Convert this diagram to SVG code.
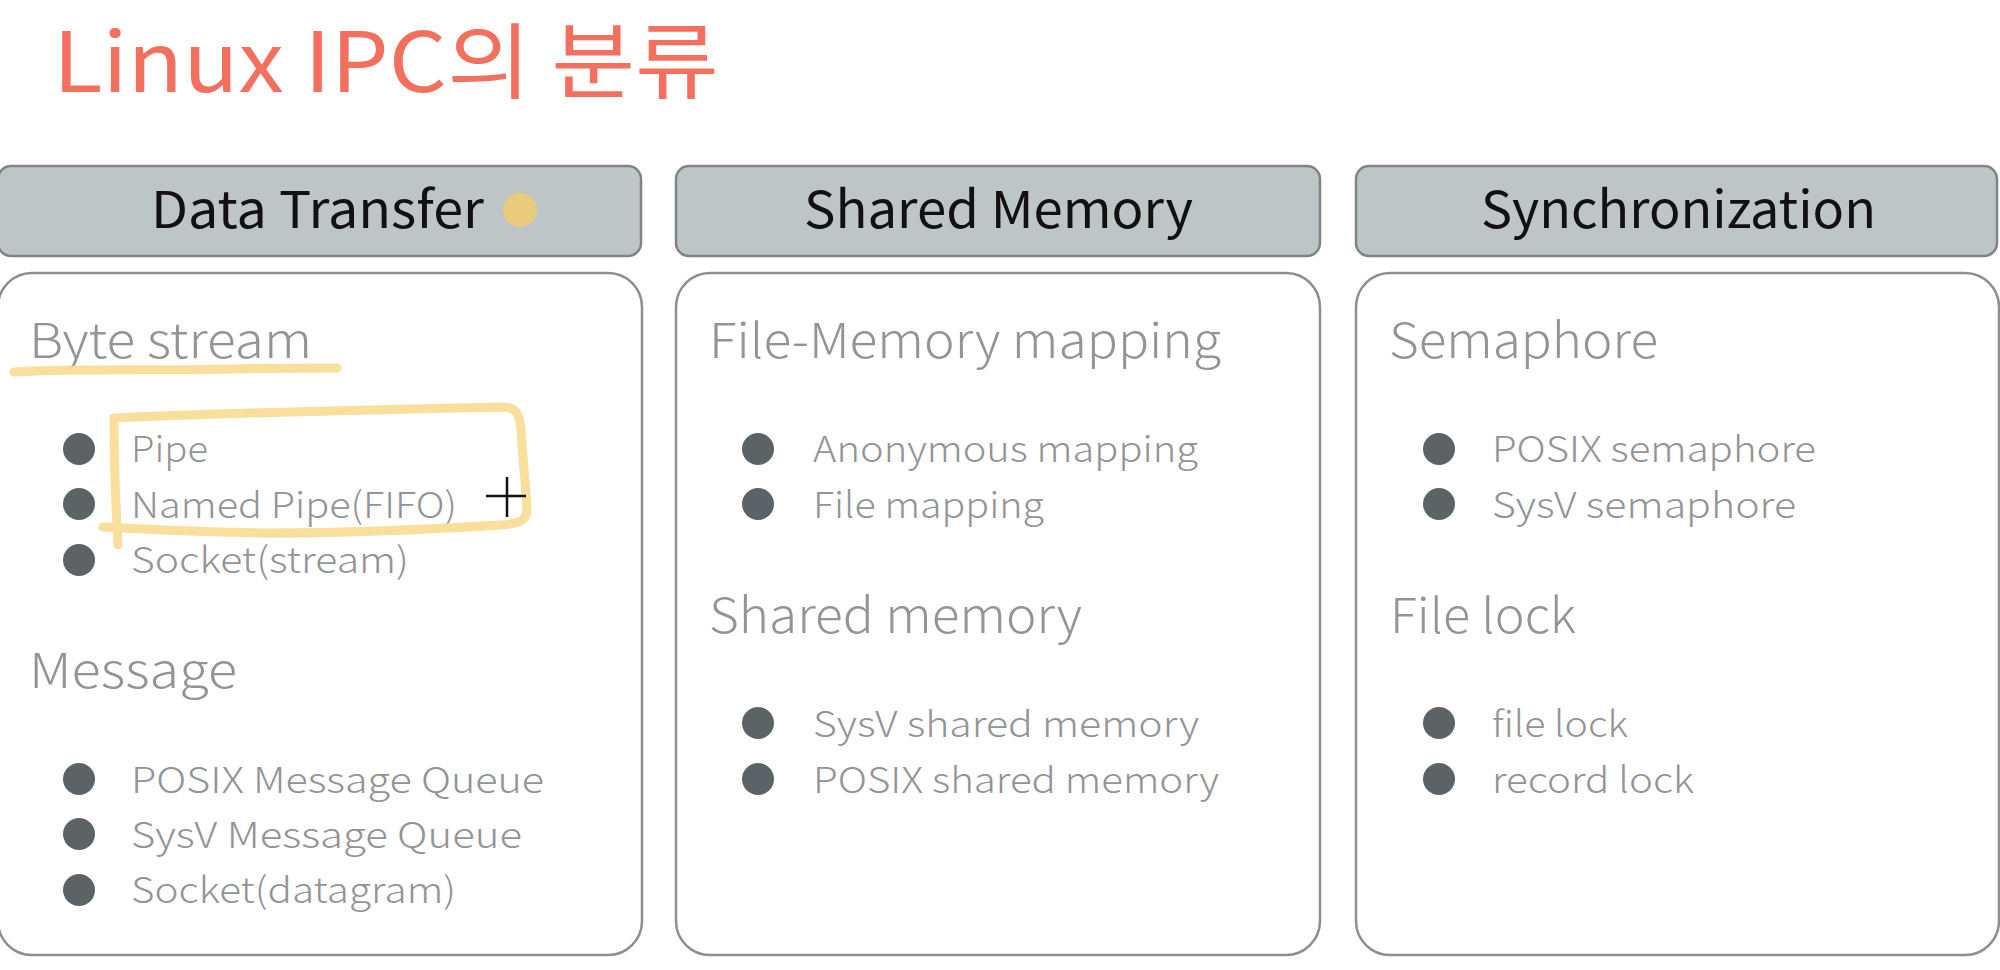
<svg xmlns="http://www.w3.org/2000/svg" width="2000" height="970" viewBox="0 0 2000 970">
<style>
.title{font-family:"Noto Sans CJK KR","Noto Sans",sans-serif;font-size:83px;fill:#F3705F;}
.hdr{fill:#BEC5C7;stroke:#7E8586;stroke-width:2.5;}
.hdrtxt{font-family:"Noto Sans CJK KR","Noto Sans",sans-serif;font-size:51px;fill:#111;font-weight:400;}
.box{fill:#fff;stroke:#8C8F90;stroke-width:2.5;}
.h2{font-family:"Noto Sans CJK KR","Noto Sans",sans-serif;font-size:48px;fill:#929495;font-weight:300;}
.item{font-family:"Noto Sans CJK KR","Noto Sans",sans-serif;font-size:36px;fill:#929495;font-weight:300;}
.dot{fill:#5C6366;}
.hl{fill:none;stroke:#F9DC97;stroke-width:9;stroke-linecap:round;stroke-linejoin:round;opacity:0.95;}
</style>
<rect width="2000" height="970" fill="#fff"/>
<text class="title" x="53" y="92" textLength="666" lengthAdjust="spacingAndGlyphs">Linux IPC의 분류</text>

<g id="header-data-transfer">
<rect class="hdr" x="-2" y="166" width="643" height="90" rx="13"/>
<text class="hdrtxt" x="151" y="228" textLength="333" lengthAdjust="spacingAndGlyphs">Data Transfer</text>
<circle cx="520" cy="210" r="17" fill="#E8CB7C"/>
</g>
<g id="header-shared-memory">
<rect class="hdr" x="676" y="166" width="644" height="90" rx="13"/>
<text class="hdrtxt" x="804" y="228" textLength="389" lengthAdjust="spacingAndGlyphs">Shared Memory</text>
</g>
<g id="header-synchronization">
<rect class="hdr" x="1356" y="166" width="641" height="90" rx="13"/>
<text class="hdrtxt" x="1481" y="228" textLength="395" lengthAdjust="spacingAndGlyphs">Synchronization</text>
</g>

<g id="box-data-transfer">
<rect class="box" x="-2" y="273" width="644" height="682" rx="34"/>
<text class="h2" x="29" y="358" textLength="283" lengthAdjust="spacingAndGlyphs">Byte stream</text>
<circle class="dot" cx="79" cy="449" r="16"/>
<text class="item" x="131" y="462" textLength="77" lengthAdjust="spacingAndGlyphs">Pipe</text>
<circle class="dot" cx="79" cy="504" r="16"/>
<text class="item" x="131" y="518" textLength="326" lengthAdjust="spacingAndGlyphs">Named Pipe(FIFO)</text>
<circle class="dot" cx="79" cy="560" r="16"/>
<text class="item" x="131" y="573" textLength="278" lengthAdjust="spacingAndGlyphs">Socket(stream)</text>
<text class="h2" x="29" y="688" textLength="208" lengthAdjust="spacingAndGlyphs">Message</text>
<circle class="dot" cx="79" cy="779" r="16"/>
<text class="item" x="131" y="793" textLength="413" lengthAdjust="spacingAndGlyphs">POSIX Message Queue</text>
<circle class="dot" cx="79" cy="834" r="16"/>
<text class="item" x="131" y="848" textLength="391" lengthAdjust="spacingAndGlyphs">SysV Message Queue</text>
<circle class="dot" cx="79" cy="890" r="16"/>
<text class="item" x="131" y="903" textLength="325" lengthAdjust="spacingAndGlyphs">Socket(datagram)</text>
</g>

<g id="box-shared-memory">
<rect class="box" x="676" y="273" width="644" height="682" rx="34"/>
<text class="h2" x="709" y="358" textLength="512" lengthAdjust="spacingAndGlyphs">File-Memory mapping</text>
<circle class="dot" cx="758" cy="449" r="16"/>
<text class="item" x="813" y="462" textLength="385" lengthAdjust="spacingAndGlyphs">Anonymous mapping</text>
<circle class="dot" cx="758" cy="504" r="16"/>
<text class="item" x="813" y="518" textLength="231" lengthAdjust="spacingAndGlyphs">File mapping</text>
<text class="h2" x="709" y="633" textLength="373" lengthAdjust="spacingAndGlyphs">Shared memory</text>
<circle class="dot" cx="758" cy="723" r="16"/>
<text class="item" x="813" y="737" textLength="386" lengthAdjust="spacingAndGlyphs">SysV shared memory</text>
<circle class="dot" cx="758" cy="779" r="16"/>
<text class="item" x="813" y="793" textLength="406" lengthAdjust="spacingAndGlyphs">POSIX shared memory</text>
</g>

<g id="box-synchronization">
<rect class="box" x="1356" y="273" width="643" height="682" rx="34"/>
<text class="h2" x="1389" y="358" textLength="269" lengthAdjust="spacingAndGlyphs">Semaphore</text>
<circle class="dot" cx="1439" cy="449" r="16"/>
<text class="item" x="1492" y="462" textLength="324" lengthAdjust="spacingAndGlyphs">POSIX semaphore</text>
<circle class="dot" cx="1439" cy="504" r="16"/>
<text class="item" x="1492" y="518" textLength="304" lengthAdjust="spacingAndGlyphs">SysV semaphore</text>
<text class="h2" x="1390" y="633" textLength="186" lengthAdjust="spacingAndGlyphs">File lock</text>
<circle class="dot" cx="1439" cy="723" r="16"/>
<text class="item" x="1492" y="737" textLength="136" lengthAdjust="spacingAndGlyphs">file lock</text>
<circle class="dot" cx="1439" cy="779" r="16"/>
<text class="item" x="1492" y="793" textLength="202" lengthAdjust="spacingAndGlyphs">record lock</text>
</g>

<g id="annotations">
<path class="hl" d="M14,372 C80,368 160,371 230,369 C280,368 315,368 337,368"/>
<path class="hl" d="M118,545 C116,510 114,460 114,418 C200,414 350,410 505,407 C518,408 520,418 521,430 C523,460 526,490 527,510 C527,522 515,524 500,525 C420,530 330,533 270,533 C200,532 140,529 103,527"/>
<g stroke="#111" stroke-width="2.5">
<line x1="486" y1="496" x2="526" y2="496"/>
<line x1="507" y1="477" x2="507" y2="517"/>
</g>
</g>
<g id="connectors"/>
</svg>
